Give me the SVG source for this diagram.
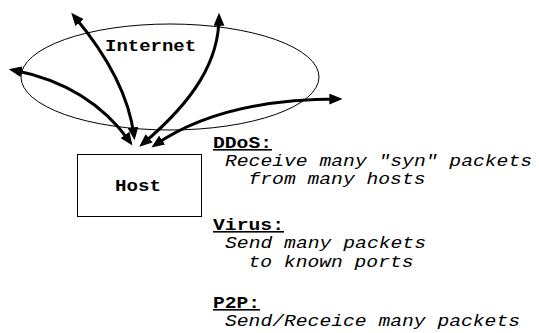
<svg xmlns="http://www.w3.org/2000/svg" width="539" height="333" viewBox="0 0 539 333">
  <style>
    .mono { font-family: "Liberation Mono", "DejaVu Sans Mono", monospace; font-size: 16px; fill: #000; }
    .bold { font-weight: bold; }
    .head { font-weight: bold; text-decoration: underline; }
    .desc { font-style: italic; }
    .link { fill: none; stroke: #000; stroke-width: 3; }
  </style>
  <defs>
    <marker id="arrowhead" markerUnits="userSpaceOnUse" markerWidth="13" markerHeight="11" refX="8" refY="5" orient="auto-start-reverse" viewBox="0 0 12 10">
      <path d="M0,0 L12,5 L0,10 Z" fill="#000"/>
    </marker>
  </defs>
  <rect width="539" height="333" fill="#fff"/>

  <!-- Internet cloud -->
  <g id="internet">
    <ellipse cx="170" cy="77" rx="149" ry="53" fill="none" stroke="#000" stroke-width="1"/>
    <text class="mono bold" x="105" y="51" textLength="91" lengthAdjust="spacingAndGlyphs">Internet</text>
  </g>

  <!-- Host box -->
  <g id="host">
    <rect x="77.5" y="154.5" width="124" height="62" fill="#fff" stroke="#000" stroke-width="1"/>
    <text class="mono bold" x="115" y="191" textLength="46" lengthAdjust="spacingAndGlyphs">Host</text>
  </g>

  <!-- Traffic between the host and the outside -->
  <g id="connectors">
    <path class="link" d="M130,142 Q90,85 13,70" marker-start="url(#arrowhead)" marker-end="url(#arrowhead)"/>
    <path class="link" d="M134,136 Q127,79 74,16" marker-start="url(#arrowhead)" marker-end="url(#arrowhead)"/>
    <path class="link" d="M142.5,144 C195,100 219,60 219,17" marker-start="url(#arrowhead)" marker-end="url(#arrowhead)"/>
    <path class="link" d="M155,145 Q222,99 338,99" marker-start="url(#arrowhead)" marker-end="url(#arrowhead)"/>
  </g>

  <!-- Traffic patterns -->
  <g id="ddos">
    <text class="mono head" x="213" y="148" textLength="59" lengthAdjust="spacingAndGlyphs">DDoS:</text>
    <text class="mono desc" x="225" y="166" textLength="307" lengthAdjust="spacingAndGlyphs">Receive many "syn" packets</text>
    <text class="mono desc" x="248.5" y="184" textLength="177" lengthAdjust="spacingAndGlyphs">from many hosts</text>
  </g>
  <g id="virus">
    <text class="mono head" x="213" y="230" textLength="71" lengthAdjust="spacingAndGlyphs">Virus:</text>
    <text class="mono desc" x="225" y="248" textLength="201" lengthAdjust="spacingAndGlyphs">Send many packets</text>
    <text class="mono desc" x="248.5" y="267" textLength="165" lengthAdjust="spacingAndGlyphs">to known ports</text>
  </g>
  <g id="p2p">
    <text class="mono head" x="213" y="308" textLength="47" lengthAdjust="spacingAndGlyphs">P2P:</text>
    <text class="mono desc" x="225" y="326" textLength="295" lengthAdjust="spacingAndGlyphs">Send/Receice many packets</text>
  </g>
</svg>
